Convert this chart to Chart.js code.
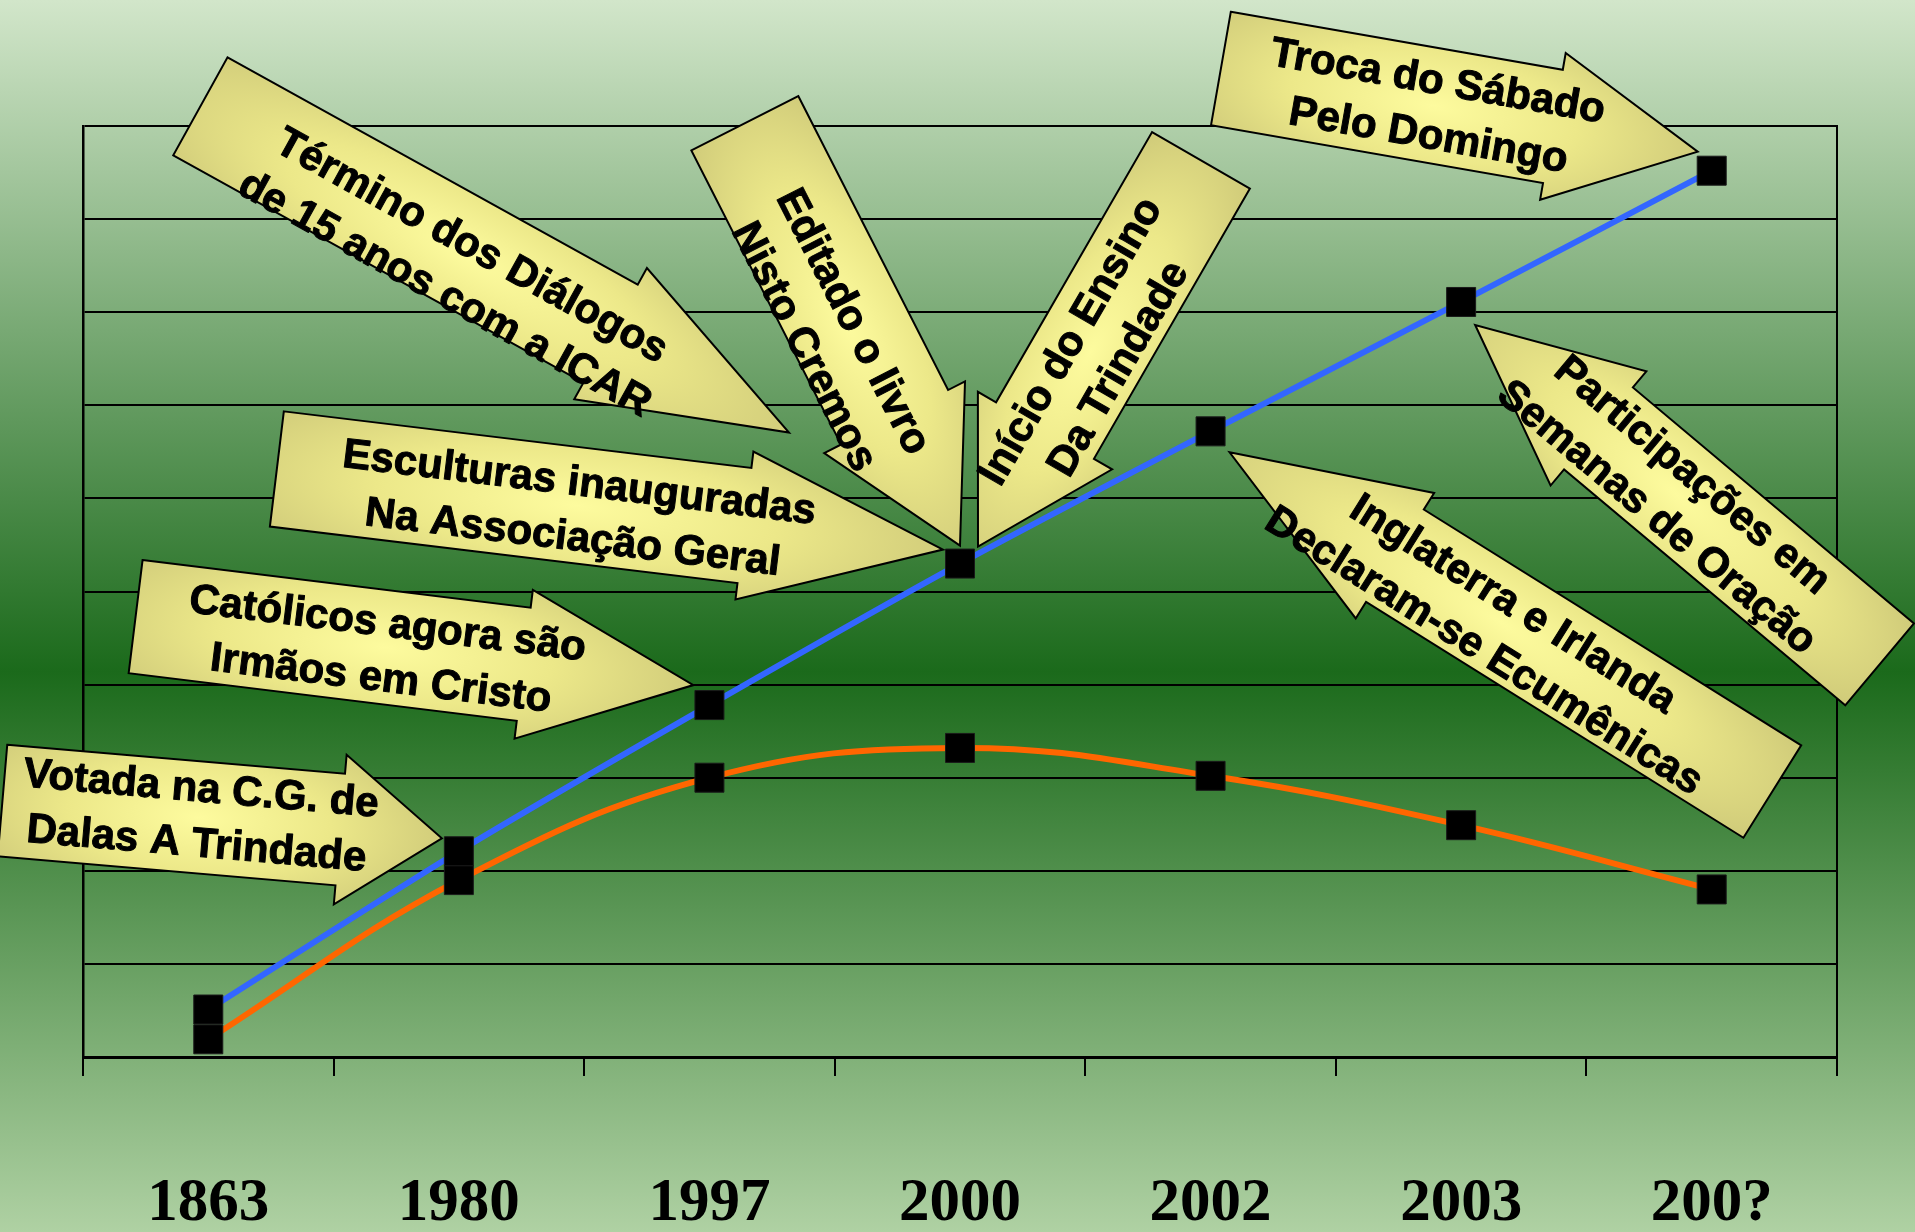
<!DOCTYPE html>
<html>
<head>
<meta charset="utf-8">
<script src="https://cdn.jsdelivr.net/npm/chart.js@4.4.1/dist/chart.umd.min.js"></script>
<style>
  html, body { margin: 0; padding: 0; }
  body {
    width: 1915px; height: 1232px; overflow: hidden;
    background: linear-gradient(to bottom, #d2e6ca 0%, #1b6a1b 54.5%, #afd1a3 100%);
  }
  #grafico { display: block; }
</style>
</head>
<body>
<canvas id="grafico" width="1915" height="1232"></canvas>
<script>
// dados
const anos = ['1863', '1980', '1997', '2000', '2002', '2003', '200?'];
const serieAzul = [0.51, 2.21, 3.78, 5.30, 6.72, 8.11, 9.52];
const serieLaranja = [0.19, 1.90, 3.00, 3.32, 3.02, 2.49, 1.80];
const yMin = 0, yMax = 10, yPasso = 1;

// setas (callouts): texto + ponto da serie azul para onde apontam
const setas = [
    { linhas: ['Término dos Diálogos', 'de 15 anos com a ICAR'], idx: 3, dx: -171, dy: -131, ang: 29, len: 673, bw: 112, hw: 150, hl: 204, tAlong: 305, tDown: 19 },
    { linhas: ['Esculturas inauguradas', 'Na Associação Geral'], idx: 3, dx: -17, dy: -14, ang: 6.9, len: 671, bw: 116, hw: 149, hl: 200, tAlong: 302, tDown: 6 },
    { linhas: ['Editado o livro', 'Nisto Cremos'], idx: 3, dx: 0, dy: -18, ang: 63, len: 474, bw: 120, hw: 158, hl: 144, tAlong: 226, tDown: 22 },
    { linhas: ['Início do Ensino', 'Da Trindade'], idx: 3, dx: 18, dy: -17, ang: 120, len: 446, bw: 113, hw: 155, hl: 134, tAlong: 222, tDown: 6 },
    { linhas: ['Votada na C.G. de', 'Dalas A Trindade'], idx: 1, dx: -17, dy: -13, ang: 4.9, len: 441, bw: 112, hw: 150, hl: 102, tAlong: 197, tDown: 0 },
    { linhas: ['Católicos agora são', 'Irmãos em Cristo'], idx: 2, dx: -16, dy: -20, ang: 7, len: 562, bw: 114, hw: 150, hl: 171, tAlong: 251, tDown: 5 },
    { linhas: ['Troca do Sábado', 'Pelo Domingo'], idx: 6, dx: -14, dy: -19, ang: 9.9, len: 484, bw: 115, hw: 149, hl: 147, tAlong: 216, tDown: 4 },
    { linhas: ['Inglaterra e Irlanda', 'Declaram-se Ecumênicas'], idx: 4, dx: 19, dy: 21, ang: 212, len: 640, bw: 109, hw: 148, hl: 195, tAlong: 319, tDown: 7 },
    { linhas: ['Participações em', 'Semanas de Oração'], idx: 5, dx: 14, dy: 23, ang: 220, len: 528, bw: 107, hw: 149, hl: 161, tAlong: 265, tDown: 4 }
];

const pluginSetas = {
    id: 'setas',
    afterDraw(chart) {
        const ctx = chart.ctx;
        const xs = chart.scales.x, ys = chart.scales.y;
        setas.forEach(s => {
            const a = s.ang * Math.PI / 180;
            const dir = [Math.cos(a), Math.sin(a)];
            const tipX = xs.getPixelForValue(s.idx) + s.dx;
            const tipY = ys.getPixelForValue(serieAzul[s.idx]) + s.dy;
            const bx = tipX - dir[0] * s.len, by = tipY - dir[1] * s.len;
            const L = s.len, hb = s.bw / 2, hh = s.hw / 2, e = L - s.hl;

            ctx.save();
            ctx.translate(bx, by);
            ctx.rotate(a);
            ctx.beginPath();
            ctx.moveTo(0, -hb);
            ctx.lineTo(e, -hb);
            ctx.lineTo(e, -hh);
            ctx.lineTo(L, 0);
            ctx.lineTo(e, hh);
            ctx.lineTo(e, hb);
            ctx.lineTo(0, hb);
            ctx.closePath();

            // preenchimento com gradiente claro no meio
            ctx.save();
            ctx.clip();
            const rx = L * 0.6, ry = s.hw * 0.75;
            ctx.translate(s.tAlong, 0);
            ctx.scale(1, ry / rx);
            const g = ctx.createRadialGradient(0, 0, 0, 0, 0, rx);
            g.addColorStop(0, '#fdfb9e');
            g.addColorStop(0.5, '#ece889');
            g.addColorStop(1, '#cdc878');
            ctx.fillStyle = g;
            ctx.fillRect(-rx * 2, -rx * 2, rx * 4, rx * 4);
            ctx.restore();

            ctx.lineWidth = 2;
            ctx.strokeStyle = '#000';
            ctx.lineJoin = 'miter';
            ctx.stroke();
            ctx.restore();

            // texto
            let rot = s.ang;
            if (rot > 90 && rot < 270) rot -= 180;
            const r = rot * Math.PI / 180;
            const cx = bx + dir[0] * s.tAlong - Math.sin(r) * s.tDown;
            const cy = by + dir[1] * s.tAlong + Math.cos(r) * s.tDown;
            ctx.save();
            ctx.translate(cx, cy);
            ctx.rotate(r);
            ctx.font = "bold 42px 'Liberation Sans', Arial, sans-serif";
            ctx.fillStyle = '#000';
            ctx.strokeStyle = '#000';
            ctx.lineWidth = 1;
            ctx.lineJoin = 'round';
            ctx.textAlign = 'center';
            ctx.textBaseline = 'middle';
            const gap = 55;
            s.linhas.forEach((t, i) => {
                const ty = (i - (s.linhas.length - 1) / 2) * gap;
                ctx.fillText(t, 0, ty);
                ctx.strokeText(t, 0, ty);
            });
            ctx.restore();
        });
    }
};

const ctx = document.getElementById('grafico').getContext('2d');
new Chart(ctx, {
    type: 'line',
    data: {
        labels: anos,
        datasets: [
            {
                label: 'azul',
                data: serieAzul,
                borderColor: '#3366ff',
                borderWidth: 6,
                tension: 0.25,
                pointStyle: 'rect',
                pointRadius: 20.5,
                pointBackgroundColor: '#000',
                pointBorderColor: '#1a1a1a',
                pointBorderWidth: 1
            },
            {
                label: 'laranja',
                data: serieLaranja,
                borderColor: '#ff6600',
                borderWidth: 6,
                tension: 0.4,
                pointStyle: 'rect',
                pointRadius: 20.5,
                pointBackgroundColor: '#000',
                pointBorderColor: '#1a1a1a',
                pointBorderWidth: 1
            }
        ]
    },
    options: {
        responsive: false,
        animation: false,
        devicePixelRatio: 1,
        layout: { autoPadding: false, padding: { left: 83, right: 78, top: 126, bottom: 2 } },
        plugins: {
            legend: { display: false },
            tooltip: { enabled: false }
        },
        scales: {
            x: {
                offset: true,
                afterFit(scale) { scale.height = 173; },
                grid: { offset: true, drawOnChartArea: false, drawTicks: true, tickLength: 19, color: '#000', lineWidth: 2 },
                border: { display: true, color: '#000', width: 3 },
                ticks: {
                    color: '#000',
                    padding: 98,
                    maxRotation: 0,
                    font: { family: "'Liberation Serif', 'Times New Roman', serif", size: 61, weight: 'bold', lineHeight: 1 }
                }
            },
            y: {
                min: yMin,
                max: yMax,
                ticks: { display: false, stepSize: yPasso },
                grid: { color: '#000', lineWidth: 2, drawTicks: false },
                border: { display: true, color: '#000', width: 2.5 }
            },
            y2: {
                position: 'right',
                min: yMin,
                max: yMax,
                ticks: { display: false },
                grid: { display: false, drawTicks: false },
                border: { display: true, color: '#000', width: 2 }
            }
        }
    },
    plugins: [pluginSetas]
});
</script>
</body>
</html>
